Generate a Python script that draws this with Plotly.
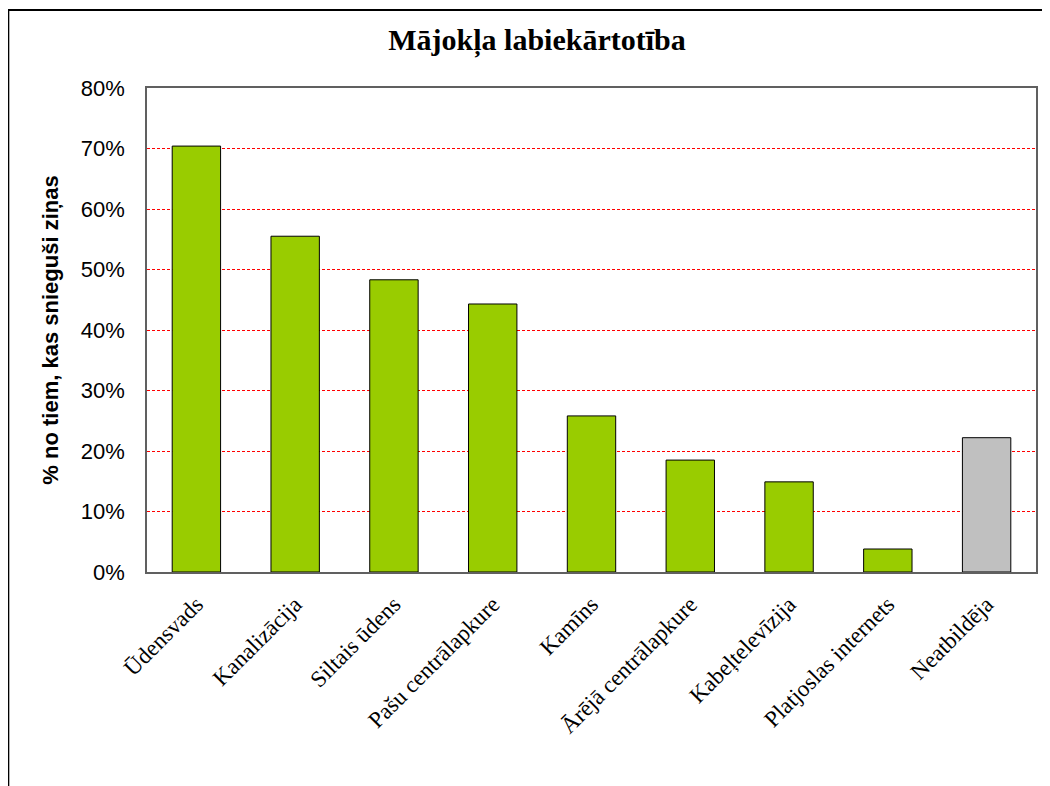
import plotly.graph_objects as go

# Housing amenities, share of respondents (%)
categories = [
    "Ūdensvads",
    "Kanalizācija",
    "Siltais ūdens",
    "Pašu centrālapkure",
    "Kamīns",
    "Ārējā centrālapkure",
    "Kabeļtelevīzija",
    "Platjoslas internets",
    "Neatbildēja",
]
values = [70.4, 55.5, 48.3, 44.3, 25.8, 18.5, 14.9, 3.8, 22.2]
bar_colors = ["#99CC00"] * 8 + ["#C0C0C0"]
y_ticks = [0, 10, 20, 30, 40, 50, 60, 70, 80]

# page body has an 8px margin, so the figure is shifted by 8px
W, H = 1042, 778
L, T, R = 139, 80, 12
PW, PH = W - L - R, 484
B = H - T - PH

fig = go.Figure()
fig.add_trace(go.Bar(
    x=categories,
    y=values,
    marker=dict(color=bar_colors, line=dict(color="black", width=1)),
    width=0.49,
))

fig.update_layout(
    width=W,
    height=H,
    margin=dict(l=L, r=R, t=T, b=B),
    paper_bgcolor="white",
    plot_bgcolor="white",
    showlegend=False,
    title=dict(
        text="<b>Mājokļa labiekārtotība</b>",
        x=(537 - 8) / W, xanchor="center", y=1 - (39 - 8) / H, yanchor="middle",
        font=dict(family="Liberation Serif", size=30, color="black"),
    ),
    xaxis=dict(
        tickangle=-45,
        tickfont=dict(family="Liberation Serif", size=23, color="black"),
        ticklabelstandoff=8,
        showline=True, mirror=True, linecolor="#606060", linewidth=1.5,
        showgrid=False,
    ),
    yaxis=dict(
        range=[0, 80],
        tickvals=y_ticks,
        ticktext=[f"{v}%" for v in y_ticks],
        tickfont=dict(family="Liberation Sans", size=22, color="black"),
        ticklabelstandoff=16,
        showline=True, mirror=True, linecolor="#606060", linewidth=1.5,
        showgrid=True, gridcolor="#FF0000", gridwidth=1, griddash="3px,2px",
        zeroline=False,
        title=dict(
            text="<b>% no tiem, kas snieguši ziņas</b>",
            font=dict(family="Liberation Sans", size=22, color="black"),
            standoff=16,
        ),
    ),
)

# outer chart frame
fig.add_shape(
    type="rect", xref="paper", yref="paper",
    x0=(8 - 8 - L) / PW, x1=(1047 - 8 - L) / PW,
    y0=-(820 - 8 - T - PH) / PH, y1=1 + (T - 2) / PH,
    line=dict(color="black", width=2), fillcolor="rgba(0,0,0,0)",
    layer="below",
)

fig.write_html("out.html")
